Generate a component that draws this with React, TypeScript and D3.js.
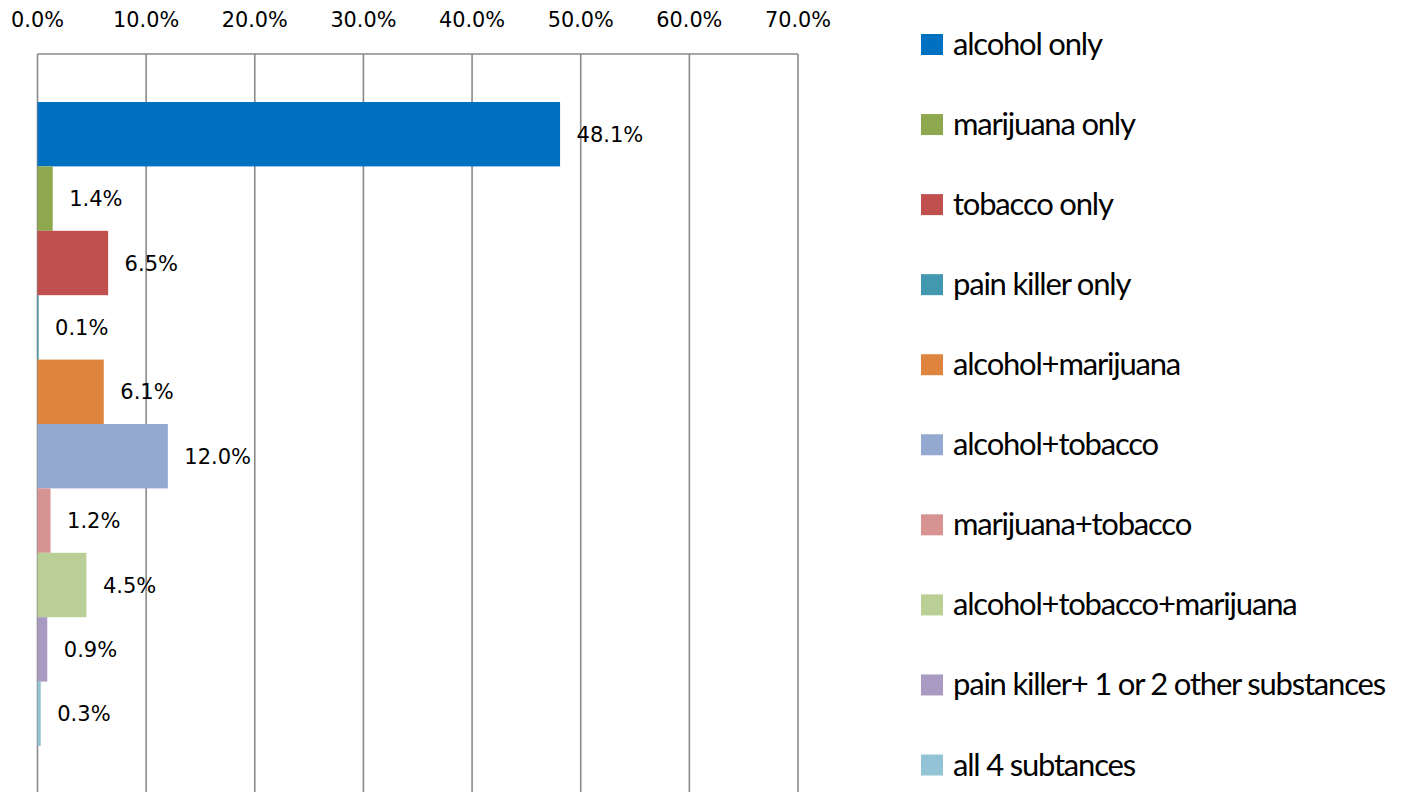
import React from "react";
import * as d3 from "d3";

const categories = [
  "alcohol only",
  "marijuana only",
  "tobacco only",
  "pain killer only",
  "alcohol+marijuana",
  "alcohol+tobacco",
  "marijuana+tobacco",
  "alcohol+tobacco+marijuana",
  "pain killer+ 1 or 2 other substances",
  "all 4 subtances",
];
const values = [48.1, 1.4, 6.5, 0.1, 6.1, 12.0, 1.2, 4.5, 0.9, 0.3];
const colors = [
  "#0070C0",
  "#8DA84E",
  "#C0504D",
  "#4298AF",
  "#DE843E",
  "#93A9D0",
  "#D69392",
  "#BACF96",
  "#A99AC2",
  "#92C4D5",
];
const ticks = [0, 10, 20, 30, 40, 50, 60, 70];

const W = 1402;
const H = 792;
const plot = { left: 37.5, right: 798, top: 54, bottom: 794 };
const barGap = 48;

export default function App() {
  const x = d3.scaleLinear().domain([0, 70]).range([plot.left, plot.right]);
  const y = d3
    .scaleBand<string>()
    .domain(categories)
    .range([plot.top + barGap, plot.bottom - barGap])
    .padding(0);
  const fmt = (v: number) => v.toFixed(1) + "%";
  const legendY = d3.scaleLinear().domain([0, categories.length - 1]).range([45, 765.5]);
  const gridColor = "#8a8a8a";

  return (
    <svg
      width={W}
      height={H}
      style={{ position: "absolute", left: 0, top: 0, background: "#fff" }}
    >
      <rect x={0} y={0} width={W} height={H} fill="#fff" />
      {/* gridlines */}
      {ticks.map((t) => (
        <line
          key={"g" + t}
          x1={x(t)}
          x2={x(t)}
          y1={plot.top}
          y2={plot.bottom}
          stroke={gridColor}
          strokeWidth={1.6}
        />
      ))}
      <line
        x1={plot.left}
        x2={plot.right}
        y1={plot.top}
        y2={plot.top}
        stroke={gridColor}
        strokeWidth={1.6}
      />
      {/* tick labels */}
      {ticks.map((t) => (
        <text
          key={"t" + t}
          x={x(t)}
          y={27}
          textAnchor="middle"
          fontFamily="DejaVu Sans"
          fontSize={20.8}
          fill="#000"
        >
          {fmt(t)}
        </text>
      ))}
      {/* bars */}
      {categories.map((c, i) => (
        <rect
          key={"b" + c}
          x={x(0)}
          y={y(c)!}
          width={x(values[i]) - x(0)}
          height={y.bandwidth()}
          fill={colors[i]}
        />
      ))}
      {/* data labels */}
      {categories.map((c, i) => (
        <text
          key={"l" + c}
          x={x(values[i]) + 16.5}
          y={y(c)! + y.bandwidth() / 2 + 7.5}
          fontFamily="DejaVu Sans"
          fontSize={21}
          fill="#000"
        >
          {fmt(values[i])}
        </text>
      ))}
      {/* legend */}
      {categories.map((c, i) => (
        <g key={"lg" + c} transform={`translate(921, ${legendY(i)})`}>
          <rect x={0} y={-11} width={22} height={21} fill={colors[i]} />
          <text
            x={32}
            y={10}
            fontFamily="Lato"
            fontSize={31}
            letterSpacing={-1.2}
            fill="#000"
          >
            {c}
          </text>
        </g>
      ))}
    </svg>
  );
}
